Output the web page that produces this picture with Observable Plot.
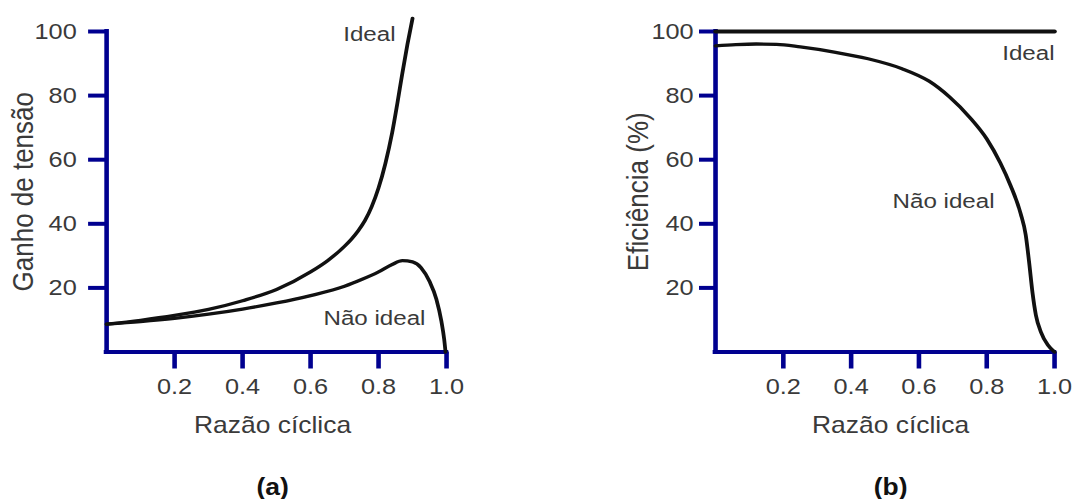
<!DOCTYPE html>
<html>
<head>
<meta charset="utf-8">
<script src="https://cdn.jsdelivr.net/npm/d3@7"></script>
<script src="https://cdn.jsdelivr.net/npm/@observablehq/plot@0.6"></script>
<style>
  html, body { margin: 0; padding: 0; background: #fff; overflow: hidden; }
  #wrap { position: relative; width: 937px; height: 499px; transform: scaleX(1.15); transform-origin: 0 0; }
  #wrap > svg { position: absolute; top: 0; }
</style>
</head>
<body>
<div id="wrap"></div>
<script>
// ---- data ----
const xTicks = [0.2, 0.4, 0.6, 0.8, 1.0];
const yTicks = [20, 40, 60, 80, 100];

// (a) Ganho de tensão
const ratioIdealA = [0, 0.1, 0.2, 0.3, 0.4, 0.5, 0.6, 0.65, 0.7, 0.72, 0.74, 0.76, 0.78, 0.8, 0.82, 0.84, 0.855, 0.87, 0.885, 0.9];
const gainIdeal   = [8.7, 9.9, 11.4, 13.3, 16, 19.5, 25, 28.5, 33, 35.2, 37.8, 41, 45.4, 51.2, 58.8, 68.4, 77.4, 87, 96, 104.1];
const ratioRealA  = [0, 0.1, 0.2, 0.3, 0.4, 0.5, 0.6, 0.7, 0.75, 0.8, 0.84, 0.87, 0.9, 0.925, 0.95, 0.97, 0.985, 0.993, 0.997];
const gainReal    = [8.7, 9.5, 10.5, 11.8, 13.4, 15.3, 17.6, 20.5, 22.6, 25, 27.3, 28.5, 28.1, 26.3, 22, 16.5, 9.5, 4, 0];

// (b) Eficiência
const ratioIdealB = [0, 1.0];
const effIdeal    = [100, 100];
const ratioRealB  = [0, 0.06, 0.12, 0.18, 0.25, 0.35, 0.45, 0.55, 0.63, 0.69, 0.75, 0.8, 0.84, 0.87, 0.9, 0.915, 0.925, 0.935, 0.945, 0.96, 0.98, 1.0];
const effReal     = [95.5, 95.9, 96.1, 96.0, 95.2, 93.6, 91.5, 88.4, 84.5, 79.6, 73.2, 66.5, 59, 52, 43.2, 36.5, 28, 18.5, 11.5, 6.2, 2.2, 0];

const labelsA = [
  {x: 0.85, y: 99, text: "Ideal"},
  {x: 0.938, y: 10.4, text: "Não ideal"}
];
const labelsB = [
  {x: 1.0, y: 93.3, text: "Ideal"},
  {x: 0.823, y: 46.9, text: "Não ideal"}
];

// ---- styling ----
const NAVY = "#000090";
const INK = "#111";
const TXT = "#3a3a3a";
const FONT = "'Liberation Sans', Arial, Helvetica, sans-serif";

const zip = (xs, ys) => xs.map((x, i) => ({x, y: ys[i]}));

function panel({left, width, marginLeft, marginRight, tickSizeY, tickPadY, yLabel, yLabelDx, xLabelDx, tag, series, labels}) {
  const svg = Plot.plot({
    width, height: 499,
    marginLeft, marginRight, marginTop: 31, marginBottom: 147.5,
    x: {domain: [0, 1]},
    y: {domain: [0, 100]},
    style: {fontFamily: FONT, fontSize: "22px", color: TXT, background: "transparent", overflow: "visible"},
    marks: [
      Plot.axisY(yTicks, {tickSize: tickSizeY, tickPadding: tickPadY, stroke: NAVY, strokeWidth: 4, fill: TXT, label: null}),
      Plot.axisX(xTicks, {tickSize: 17, tickPadding: 9, stroke: NAVY, strokeWidth: 4, fill: TXT, label: null, tickFormat: d => d.toFixed(1)}),
      Plot.ruleX([0], {stroke: NAVY, strokeWidth: 4, strokeLinecap: "square"}),
      Plot.ruleY([0], {stroke: NAVY, strokeWidth: 4, strokeLinecap: "square"}),
      ...series.map(s => Plot.line(s.data, {x: "x", y: "y", stroke: INK, strokeWidth: s.w, curve: s.curve, strokeLinecap: "round"})),
      Plot.text(labels, {x: "x", y: "y", text: "text", textAnchor: "end", lineAnchor: "middle", fontSize: 21, fill: TXT}),
      Plot.text([yLabel], {text: d => d, frameAnchor: "left", dx: yLabelDx, rotate: -90, textAnchor: "middle", lineAnchor: "middle", fontSize: 26, fill: TXT}),
      Plot.text(["Razão cíclica"], {text: d => d, frameAnchor: "bottom", dx: xLabelDx, dy: 73.5, textAnchor: "middle", lineAnchor: "middle", fontSize: 23, fill: TXT}),
      Plot.text([tag], {text: d => d, frameAnchor: "bottom", dx: xLabelDx, dy: 135.5, textAnchor: "middle", lineAnchor: "middle", fontSize: 23, fontWeight: "bold", fill: INK})
    ]
  });
  svg.style.left = left + "px";
  document.getElementById("wrap").appendChild(svg);
}

panel({
  left: 0, width: 400, marginLeft: 92.2, marginRight: 12.2,
  tickSizeY: 15.6, tickPadY: 10.4,
  yLabel: "Ganho de tensão", yLabelDx: -72.6, xLabelDx: -3.5, tag: "(a)",
  series: [
    {data: zip(ratioIdealA, gainIdeal), w: 3.3, curve: "monotone-x"},
    {data: zip(ratioRealA, gainReal), w: 3.3, curve: "monotone-x"}
  ],
  labels: labelsA
});

panel({
  left: 540, width: 397, marginLeft: 81.7, marginRight: 20.5,
  tickSizeY: 13.9, tickPadY: 5.2,
  yLabel: "Eficiência (%)", yLabelDx: -66.9, xLabelDx: 4.8, tag: "(b)",
  series: [
    {data: zip(ratioIdealB, effIdeal), w: 4, curve: "linear"},
    {data: zip(ratioRealB, effReal), w: 3.3, curve: "monotone-x"}
  ],
  labels: labelsB
});
</script>
</body>
</html>
